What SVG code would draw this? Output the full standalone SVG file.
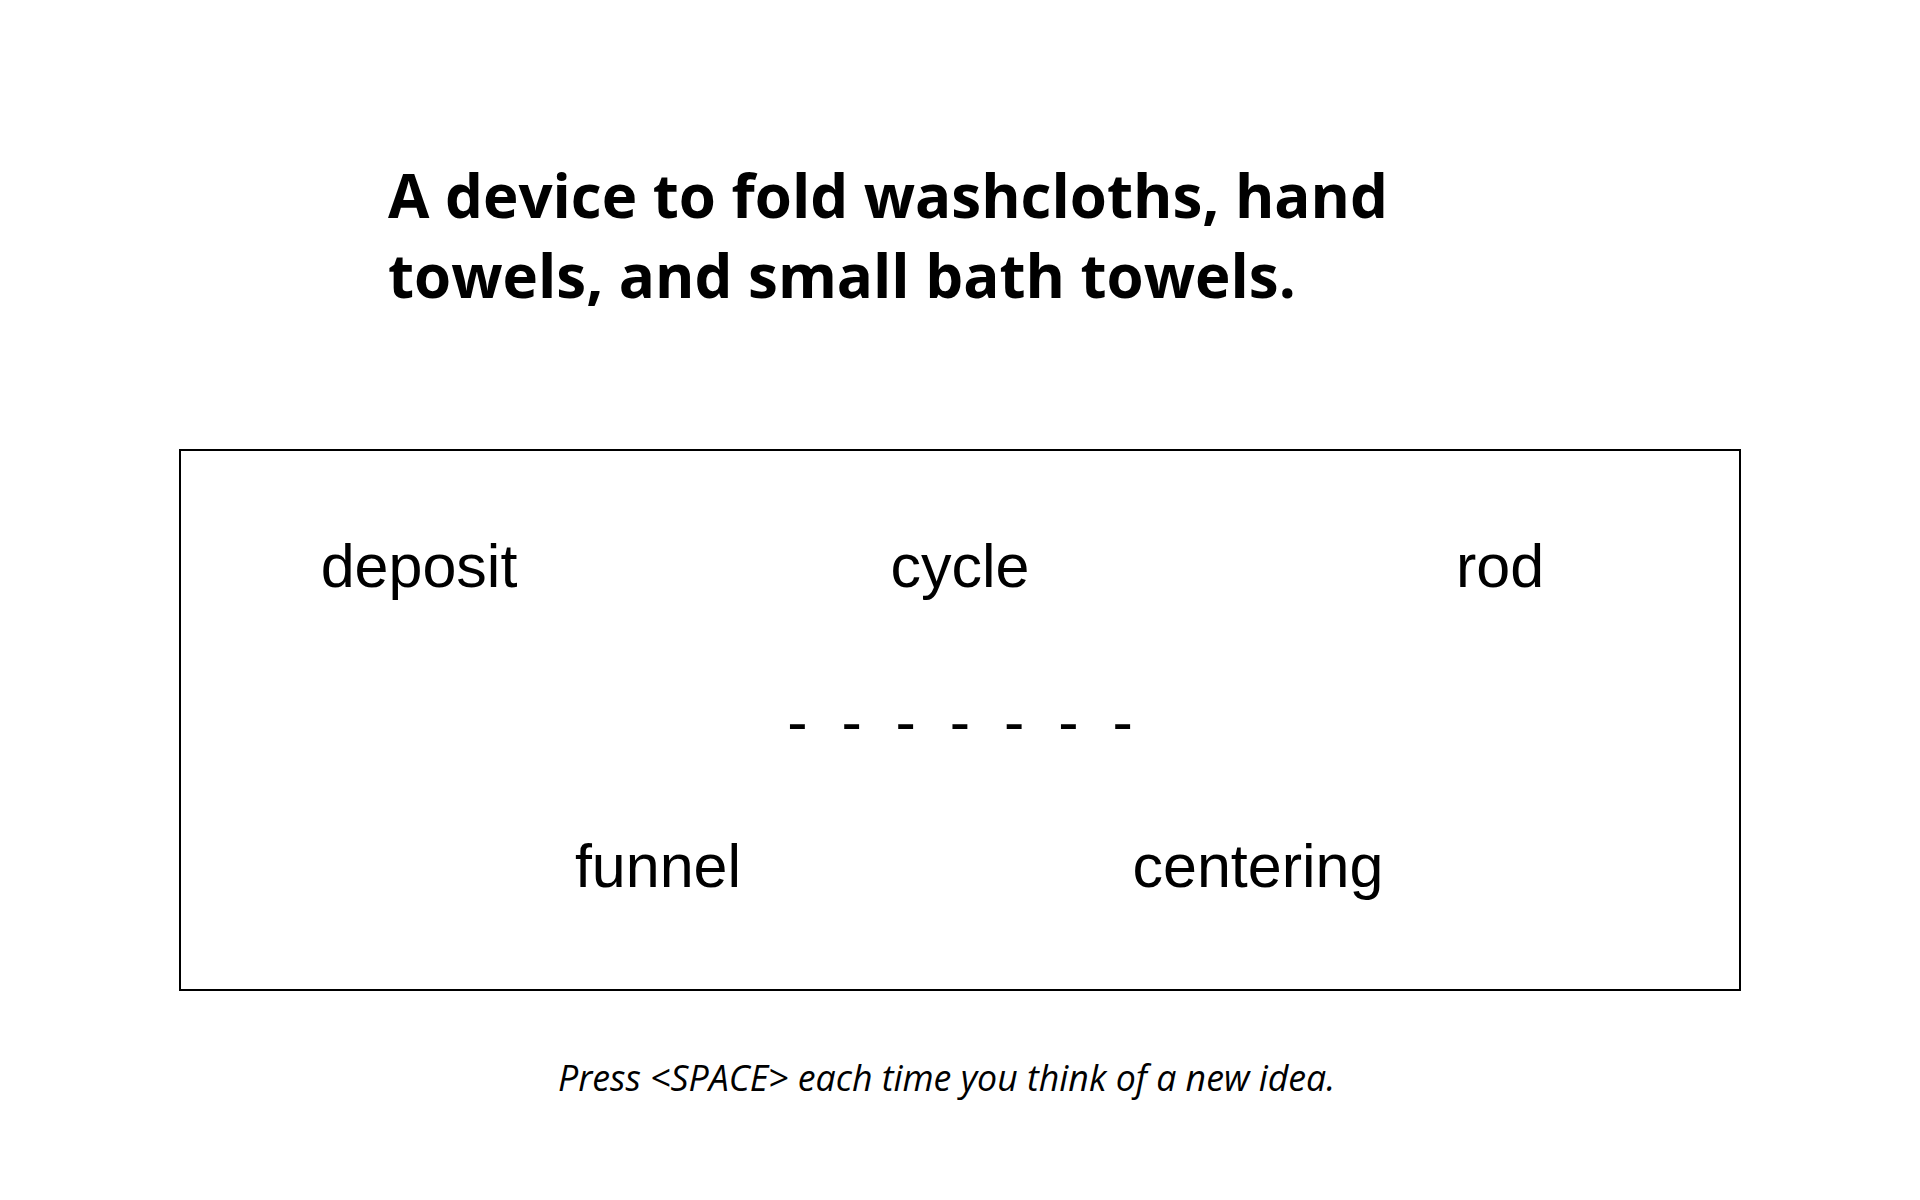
<svg xmlns="http://www.w3.org/2000/svg" width="1920" height="1200" viewBox="0 0 1920 1200">
<style>
.title{font-family:"Open Sans","Noto Sans",sans-serif;font-weight:bold;font-size:60px;fill:#000}
.word{font-family:"Liberation Sans",Arial,sans-serif;font-size:61px;fill:#000;text-anchor:middle}
.foot{font-family:"Open Sans","Noto Sans",sans-serif;font-style:italic;font-size:35.7px;fill:#000}
</style>
<rect width="1920" height="1200" fill="#fff"/>
<g id="title">
<text class="title" x="388" y="218">A device to fold washcloths, hand</text>
<text class="title" x="388" y="298">towels, and small bath towels.</text>
</g>
<g id="frame">
<rect x="180" y="450" width="1560" height="540" fill="none" stroke="#000" stroke-width="2"/>
</g>
<g id="node-deposit"><text class="word" x="419" y="587">deposit</text></g>
<g id="node-cycle"><text class="word" x="960" y="587">cycle</text></g>
<g id="node-rod"><text class="word" x="1500" y="587">rod</text></g>
<g id="node-dashes"><text class="word" x="960" y="743" xml:space="preserve">-  -  -  -  -  -  -</text></g>
<g id="node-funnel"><text class="word" x="658" y="887">funnel</text></g>
<g id="node-centering"><text class="word" x="1258" y="887">centering</text></g>
<g id="connectors"></g>
<g id="footer">
<text class="foot" x="558" y="1091">Press &lt;SPACE&gt; each time you think of a new idea.</text>
</g>
</svg>
